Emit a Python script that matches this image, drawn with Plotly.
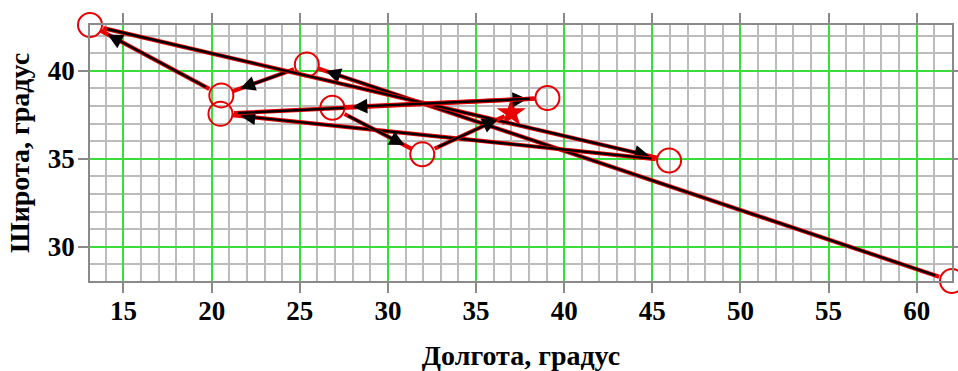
import plotly.graph_objects as go

# Route, in visiting order (longitude / latitude, degrees)
track_lon = [62.0, 25.4, 20.55, 13.1, 45.95, 20.5, 39.05, 26.85, 31.95, 37.0]
track_lat = [28.05, 40.35, 38.6, 42.6, 34.9, 37.55, 38.45, 37.9, 35.25, 37.6]

x_ticks = [15, 20, 25, 30, 35, 40, 45, 50, 55, 60]
y_ticks = [30, 35, 40]

RED = "#e80000"
GREEN = "#3ade3a"
GRAY = "#bcbcbc"
AXIS = "#8a8a8a"
FONT = "Liberation Serif, Times New Roman, serif"
CIRCLE_SIZE = 24
STAR_SIZE = 22

fig = go.Figure()

# visited points: open circles; the final position: a star
fig.add_trace(go.Scatter(
    x=track_lon[:-1], y=track_lat[:-1], mode="markers",
    marker=dict(symbol="circle-open", size=CIRCLE_SIZE, color=RED,
                line=dict(width=2, color=RED)),
    cliponaxis=False, showlegend=False, hoverinfo="skip",
))
fig.add_trace(go.Scatter(
    x=track_lon[-1:], y=track_lat[-1:], mode="markers",
    marker=dict(symbol="star", size=STAR_SIZE, color=RED),
    cliponaxis=False, showlegend=False, hoverinfo="skip",
))

# legs of the route: red track line with a black direction arrow on top
n = len(track_lon)
for i in range(n - 1):
    r_start = CIRCLE_SIZE / 2
    r_end = CIRCLE_SIZE / 2 if i + 1 < n - 1 else STAR_SIZE / 3
    common = dict(
        x=track_lon[i + 1], y=track_lat[i + 1],
        ax=track_lon[i], ay=track_lat[i],
        xref="x", yref="y", axref="x", ayref="y",
        text="", showarrow=True,
    )
    fig.add_annotation(**common, arrowhead=0, arrowwidth=4.2, arrowcolor=RED,
                       standoff=r_end, startstandoff=r_start)
    fig.add_annotation(**common, arrowhead=2, arrowsize=1.25, arrowwidth=2.4,
                       arrowcolor="black",
                       standoff=r_end + 8, startstandoff=r_start + 4)

axis_common = dict(
    showline=True, linecolor=AXIS, linewidth=1.5, mirror="ticks",
    ticks="outside", ticklen=10, tickwidth=1.5, tickcolor=AXIS,
    showgrid=True, gridcolor=GREEN, gridwidth=2,
    zeroline=False, automargin=False,
    minor=dict(dtick=1, showgrid=True, gridcolor=GRAY, gridwidth=1.6, ticks=""),
    tickfont=dict(family=FONT, size=27, color="black", weight="bold"),
)

fig.update_xaxes(
    **axis_common,
    range=[min(track_lon), max(track_lon)],
    tickvals=x_ticks, ticktext=[str(v) for v in x_ticks],
    ticklabelstandoff=-5,
    title=dict(text="Долгота, градус", standoff=22,
               font=dict(family=FONT, size=28, color="black", weight="bold")),
)
fig.update_yaxes(
    **axis_common,
    range=[min(track_lat), max(track_lat)],
    tickvals=y_ticks, ticktext=[str(v) for v in y_ticks],
    ticklabelstandoff=-2,
    title=dict(text="Широта, градус", standoff=10,
               font=dict(family=FONT, size=28, color="black", weight="bold")),
)

fig.update_layout(
    width=958, height=371,
    margin=dict(l=90, r=6, t=25, b=90),
    paper_bgcolor="white", plot_bgcolor="white",
    showlegend=False,
)

fig.write_html("out.html")
